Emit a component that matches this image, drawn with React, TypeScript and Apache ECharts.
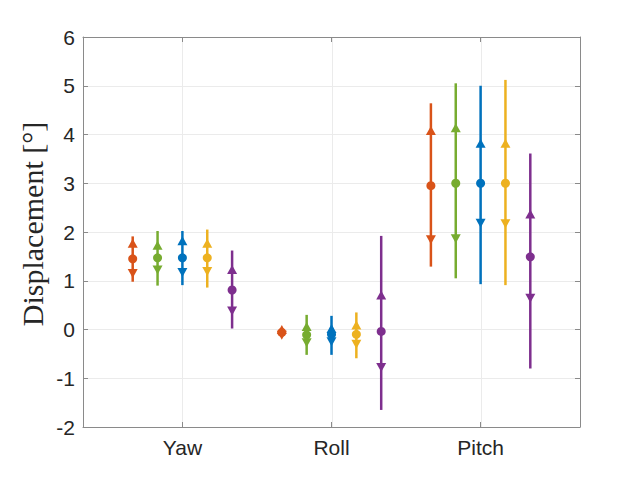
import React, { useEffect, useRef } from "react";
import * as echarts from "echarts";

const categories = ["Yaw", "Roll", "Pitch"];
const categoryPositions = [1, 2, 3];
const groupColors = ["#D95319", "#77AC30", "#0072BD", "#EDB120", "#7E2F8E"];

// per group, values for [Yaw, Roll, Pitch]
const maxVals = [
  [1.91, 0.0, 4.64],
  [2.02, 0.3, 5.05],
  [2.02, 0.28, 5.0],
  [2.05, 0.35, 5.12],
  [1.62, 1.92, 3.61],
];
const upperVals = [
  [1.77, 0.0, 4.08],
  [1.73, 0.06, 4.14],
  [1.82, 0.02, 3.82],
  [1.77, 0.09, 3.82],
  [1.23, 0.71, 2.37],
];
const meanVals = [
  [1.45, -0.06, 2.95],
  [1.47, -0.11, 3.0],
  [1.47, -0.1, 3.0],
  [1.47, -0.1, 3.0],
  [0.81, -0.04, 1.49],
];
const lowerVals = [
  [1.15, -0.12, 1.84],
  [1.22, -0.27, 1.86],
  [1.17, -0.25, 2.18],
  [1.19, -0.3, 2.17],
  [0.38, -0.78, 0.64],
];
const minVals = [
  [0.98, -0.12, 1.29],
  [0.9, -0.52, 1.05],
  [0.91, -0.52, 0.93],
  [0.86, -0.59, 0.91],
  [0.02, -1.65, -0.8],
];

const Y_MIN = -2;
const Y_MAX = 6;
const GROUP_STEP = 1 / 6;
const AXIS_COLOR = "#8a8a8a";
const GRID_COLOR = "#ebebeb";
const TEXT_COLOR = "#262626";

export default function App() {
  const ref = useRef<HTMLDivElement>(null);
  useEffect(() => {
    if (!ref.current) return;
    const chart = echarts.init(ref.current, undefined, { renderer: "svg" });
    const nG = groupColors.length;
    const xOf = (g: number, c: number) =>
      categoryPositions[c] + (g - (nG - 1) / 2) * GROUP_STEP;

    const series: any[] = [];
    // vertical grid lines at category positions
    series.push({
      type: "custom",
      z: 0,
      silent: true,
      encode: { x: 0, y: [1, 2] },
      data: categoryPositions.map((p) => [p, Y_MIN, Y_MAX]),
      renderItem: (params: any, api: any) => {
        const x = api.value(0);
        const p1 = api.coord([x, api.value(1)]);
        const p2 = api.coord([x, api.value(2)]);
        return {
          type: "line",
          shape: { x1: Math.round(p1[0]) + 0.5, y1: p1[1], x2: Math.round(p2[0]) + 0.5, y2: p2[1] },
          style: { stroke: GRID_COLOR, lineWidth: 1 },
        };
      },
    });
    for (let g = 0; g < nG; g++) {
      const color = groupColors[g];
      series.push({
        type: "custom",
        z: 2,
        silent: true,
        itemStyle: { color },
        encode: { x: 0, y: [1, 2] },
        data: categories.map((_, c) => [xOf(g, c), minVals[g][c], maxVals[g][c]]),
        renderItem: (params: any, api: any) => {
          const x = api.value(0);
          const p1 = api.coord([x, api.value(1)]);
          const p2 = api.coord([x, api.value(2)]);
          return {
            type: "line",
            shape: { x1: p1[0], y1: p1[1], x2: p2[0], y2: p2[1] },
            style: { stroke: color, lineWidth: 2.5, fill: null },
          };
        },
      });
      series.push({
        type: "scatter",
        z: 3,
        symbol: "circle",
        symbolSize: 9,
        itemStyle: { color, opacity: 1 },
        data: categories.map((_, c) => [xOf(g, c), meanVals[g][c]]),
      });
      series.push({
        type: "scatter",
        z: 4,
        symbol: "triangle",
        symbolSize: [10, 9],
        itemStyle: { color, opacity: 1 },
        data: categories.map((_, c) => [xOf(g, c), upperVals[g][c]]),
      });
      series.push({
        type: "scatter",
        z: 4,
        symbol: "triangle",
        symbolRotate: 180,
        symbolSize: [10, 9],
        itemStyle: { color, opacity: 1 },
        data: categories.map((_, c) => [xOf(g, c), lowerVals[g][c]]),
      });
    }

    const xBase = {
      type: "value",
      min: 1 / 3,
      max: 11 / 3,
      axisLine: { show: true, onZero: false, lineStyle: { color: AXIS_COLOR, width: 1 } },
      axisTick: {
        show: true,
        inside: true,
        length: 5,
        customValues: categoryPositions,
        lineStyle: { color: AXIS_COLOR },
      },
      splitLine: { show: false },
    };
    const yBase = {
      type: "value",
      min: Y_MIN,
      max: Y_MAX,
      interval: 1,
      axisLine: { show: true, onZero: false, lineStyle: { color: AXIS_COLOR, width: 1 } },
      axisTick: { show: true, inside: true, length: 5, lineStyle: { color: AXIS_COLOR } },
    };

    chart.setOption({
      animation: false,
      grid: { left: 75, top: 29, width: 497, height: 390, containLabel: false },
      xAxis: [
        {
          ...xBase,
          position: "bottom",
          axisLabel: {
            customValues: categoryPositions,
            formatter: (v: number) => categories[categoryPositions.indexOf(Math.round(v))] ?? "",
            fontSize: 21,
            color: TEXT_COLOR,
            fontFamily: "Liberation Sans",
            margin: 10,
          },
        },
        { ...xBase, position: "top", axisLabel: { show: false } },
      ],
      yAxis: [
        {
          ...yBase,
          position: "left",
          axisLabel: {
            fontSize: 21,
            color: TEXT_COLOR,
            fontFamily: "Liberation Sans",
            margin: 8,
          },
          splitLine: { show: true, lineStyle: { color: GRID_COLOR, width: 1 } },
        },
        { ...yBase, position: "right", axisLabel: { show: false }, splitLine: { show: false } },
      ],
      graphic: [
        {
          type: "text",
          x: 24,
          y: 216,
          rotation: Math.PI / 2,
          style: {
            text: "Displacement [°]",
            font: '30px "Liberation Serif"',
            fill: TEXT_COLOR,
            textAlign: "center",
            textVerticalAlign: "middle",
          },
        },
      ],
      series,
    });
    return () => chart.dispose();
  }, []);
  return <div ref={ref} style={{ width: 640, height: 480 }} />;
}
